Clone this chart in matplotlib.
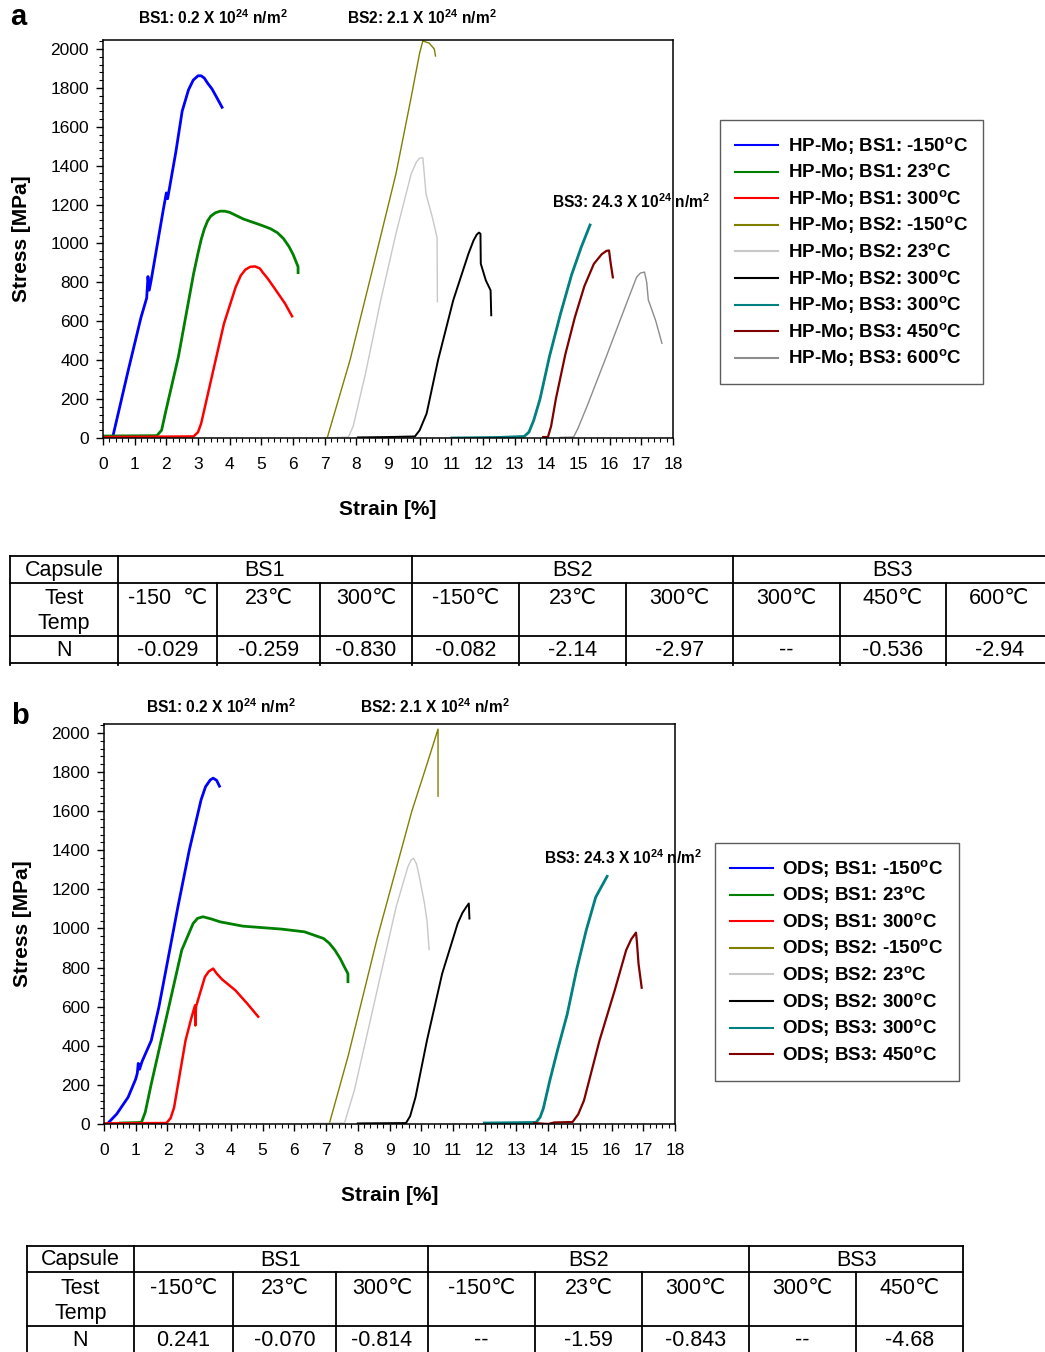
import matplotlib
matplotlib.use('Agg')
import matplotlib.pyplot as plt
from matplotlib.ticker import MultipleLocator

plt.rcParams['font.family'] = ['Liberation Sans', 'DejaVu Sans']
plt.rcParams['mathtext.fontset'] = 'custom'
plt.rcParams['mathtext.rm'] = 'Liberation Sans'
plt.rcParams['mathtext.bf'] = 'Liberation Sans:bold'

W, H = 1045, 1352

# ---- panel a: HP-Mo curves (strain %, stress MPa) ----
a_bs1_m150_x = [0.3, 0.8, 1.2, 1.38, 1.42, 1.46, 1.52, 1.9, 2.0, 2.04, 2.3, 2.5, 2.7, 2.85, 3.0, 3.1, 3.2, 3.3, 3.44, 3.6, 3.76]
a_bs1_m150_y = [0, 350, 620, 720, 830, 760, 810, 1170, 1260, 1230, 1470, 1680, 1790, 1840, 1862, 1862, 1850, 1825, 1795, 1748, 1700]
a_bs1_23_x = [0, 1.7, 1.85, 2.0, 2.38, 2.86, 3.0, 3.1, 3.2, 3.3, 3.4, 3.55, 3.7, 3.85, 4.0, 4.43, 5.03, 5.3, 5.51, 5.7, 5.87, 6.0, 6.1, 6.16, 6.16]
a_bs1_23_y = [10, 12, 40, 150, 417, 844, 950, 1020, 1075, 1115, 1140, 1158, 1166, 1166, 1160, 1126, 1092, 1075, 1055, 1025, 985, 945, 905, 880, 850]
a_bs1_300_x = [0, 2.86, 3.0, 3.1, 3.46, 3.82, 4.19, 4.35, 4.5, 4.65, 4.8, 4.95, 5.05, 5.2, 5.39, 5.75, 5.97]
a_bs1_300_y = [5, 8, 30, 75, 332, 588, 776, 835, 866, 880, 882, 872, 850, 820, 776, 691, 626]
a_bs2_m150_x = [7.08, 7.8, 8.53, 9.25, 9.73, 10.0, 10.1, 10.3, 10.46, 10.5]
a_bs2_m150_y = [0, 400, 879, 1357, 1750, 1980, 2041, 2030, 2000, 1964]
a_bs2_23_x = [7.0, 7.75, 7.9, 8.29, 8.77, 9.25, 9.73, 9.9, 10.0, 10.1, 10.2, 10.4, 10.55, 10.56]
a_bs2_23_y = [0, 5, 60, 332, 708, 1050, 1357, 1420, 1438, 1441, 1255, 1135, 1030, 700]
a_bs2_300_x = [8.05, 9.0, 9.85, 10.0, 10.22, 10.58, 11.06, 11.54, 11.7, 11.8, 11.87, 11.92, 11.93, 12.09, 12.24, 12.26]
a_bs2_300_y = [3, 5, 8, 40, 126, 400, 708, 947, 1015, 1045, 1056, 1050, 896, 810, 759, 631]
a_bs3_300_x = [11.02, 12.5, 13.3, 13.45, 13.6, 13.8, 14.1, 14.45, 14.8, 15.1, 15.38]
a_bs3_300_y = [0, 3, 8, 30, 90, 200, 420, 640, 840, 980, 1095]
a_bs3_450_x = [13.9, 14.05, 14.15, 14.3, 14.6, 14.9, 15.2, 15.5, 15.75, 15.9, 15.98, 16.03, 16.1]
a_bs3_450_y = [5, 5, 60, 200, 430, 620, 780, 895, 945, 962, 964, 900, 826]
a_bs3_600_x = [14.44, 14.86, 15.0, 15.28, 15.89, 16.49, 16.85, 16.97, 17.1, 17.17, 17.22, 17.45, 17.65]
a_bs3_600_y = [3, 5, 50, 161, 417, 674, 827, 848, 853, 800, 710, 605, 487]

# ---- panel b: ODS curves ----
b_bs1_m150_x = [0.1, 0.4, 0.76, 1.0, 1.05, 1.08, 1.12, 1.2, 1.49, 1.73, 1.97, 2.33, 2.69, 3.06, 3.2, 3.35, 3.44, 3.55, 3.64]
b_bs1_m150_y = [0, 51, 137, 230, 260, 310, 280, 320, 427, 598, 803, 1111, 1402, 1658, 1725, 1760, 1769, 1758, 1728]
b_bs1_23_x = [0.52, 1.18, 1.3, 1.49, 1.97, 2.45, 2.81, 2.95, 3.12, 3.4, 3.66, 4.38, 5.59, 6.32, 6.92, 7.1, 7.28, 7.45, 7.58, 7.69, 7.69]
b_bs1_23_y = [5, 8, 60, 205, 547, 889, 1026, 1052, 1060, 1048, 1034, 1012, 997, 983, 949, 925, 889, 845, 803, 769, 728]
b_bs1_300_x = [0, 1.97, 2.1, 2.21, 2.57, 2.75, 2.87, 2.88, 2.9, 3.18, 3.3, 3.44, 3.55, 3.72, 4.14, 4.52, 4.86]
b_bs1_300_y = [3, 5, 30, 85, 427, 540, 607, 504, 600, 752, 780, 795, 770, 740, 684, 615, 549]
b_bs2_m150_x = [7.1, 7.7, 8.61, 9.7, 10.2, 10.53, 10.53]
b_bs2_m150_y = [0, 350, 949, 1598, 1850, 2020, 1677]
b_bs2_23_x = [6.5, 7.58, 7.89, 8.25, 8.73, 9.21, 9.58, 9.68, 9.76, 9.85, 9.94, 10.1, 10.18, 10.25]
b_bs2_23_y = [3, 5, 171, 427, 769, 1111, 1316, 1350, 1359, 1330, 1265, 1130, 1043, 892]
b_bs2_300_x = [8.0, 9.52, 9.65, 9.82, 10.18, 10.66, 11.15, 11.3, 11.42, 11.5, 11.52]
b_bs2_300_y = [3, 5, 40, 137, 427, 769, 1026, 1080, 1110, 1128, 1051]
b_bs3_300_x = [11.99, 13.62, 13.75, 13.85, 14.05, 14.3, 14.6, 14.9, 15.2, 15.5, 15.86]
b_bs3_300_y = [5, 8, 35, 80, 220, 380, 560, 790, 990, 1160, 1267]
b_bs3_450_x = [13.56, 14.0, 14.2, 14.77, 14.95, 15.13, 15.62, 16.1, 16.46, 16.62, 16.77, 16.8, 16.85, 16.95]
b_bs3_450_y = [5, 0, 8, 10, 50, 120, 427, 684, 889, 945, 979, 930, 820, 697]

deg = r'$^{\mathbf{o}}$C'
a_labels = ['HP-Mo; BS1: -150' + deg, 'HP-Mo; BS1: 23' + deg, 'HP-Mo; BS1: 300' + deg,
            'HP-Mo; BS2: -150' + deg, 'HP-Mo; BS2: 23' + deg, 'HP-Mo; BS2: 300' + deg,
            'HP-Mo; BS3: 300' + deg, 'HP-Mo; BS3: 450' + deg, 'HP-Mo; BS3: 600' + deg]
b_labels = ['ODS; BS1: -150' + deg, 'ODS; BS1: 23' + deg, 'ODS; BS1: 300' + deg,
            'ODS; BS2: -150' + deg, 'ODS; BS2: 23' + deg, 'ODS; BS2: 300' + deg,
            'ODS; BS3: 300' + deg, 'ODS; BS3: 450' + deg]

colors = ['#0000ff', '#008000', '#ff0000', '#808000', '#c8c8c8', '#000000', '#008080', '#800000', '#8c8c8c']
widths = [2.0, 2.0, 1.8, 1.0, 1.0, 1.4, 2.0, 1.6, 1.0]

# tables
tab_groups = ['BS1', 'BS2', 'BS3']
tab_a_temps = ['-150  ℃', '23℃', '300℃', '-150℃', '23℃', '300℃', '300℃', '450℃', '600℃']
tab_a_n = ['-0.029', '-0.259', '-0.830', '-0.082', '-2.14', '-2.97', '--', '-0.536', '-2.94']
tab_a_span = [3, 3, 3]
tab_b_temps = ['-150℃', '23℃', '300℃', '-150℃', '23℃', '300℃', '300℃', '450℃']
tab_b_n = ['0.241', '-0.070', '-0.814', '--', '-1.59', '-0.843', '--', '-4.68']
tab_b_span = [3, 3, 2]

fig = plt.figure(figsize=(W / 100, H / 100), dpi=100)


def frac(x0, y0, x1, y1):
    return [x0 / W, 1 - y1 / H, (x1 - x0) / W, (y1 - y0) / H]


def draw_panel(box, xs, ys, labels, leg_xy):
    ax = fig.add_axes(frac(*box))
    handles = []
    for i, (x, y) in enumerate(zip(xs, ys)):
        ln, = ax.plot(x, y, color=colors[i], lw=widths[i], label=labels[i],
                      solid_joinstyle='round')
        handles.append(ln)
    ax.set_xlim(0, 18)
    ax.set_ylim(0, 2046)
    ax.xaxis.set_major_locator(MultipleLocator(1))
    ax.xaxis.set_minor_locator(MultipleLocator(0.2))
    ax.yaxis.set_major_locator(MultipleLocator(200))
    ax.yaxis.set_minor_locator(MultipleLocator(40))
    ax.tick_params(which='major', direction='out', length=5, width=1, labelsize=12.5, pad=5)
    ax.tick_params(which='minor', direction='out', length=3, width=0.8)
    ax.tick_params(axis='x', pad=9)
    for s in ax.spines.values():
        s.set_linewidth(1.1)
    ax.set_xlabel('Strain [%]', fontsize=15, fontweight='bold', labelpad=20)
    ax.set_ylabel('Stress [MPa]', fontsize=15, fontweight='bold', labelpad=14)
    leg = fig.legend(handles=handles, loc='upper left',
                     bbox_to_anchor=(leg_xy[0] / W, 1 - leg_xy[1] / H),
                     prop={'weight': 'bold', 'size': 13.5}, frameon=True, fancybox=False,
                     edgecolor='#333333', labelspacing=0.26, handlelength=2.3,
                     handletextpad=0.5, borderpad=0.8, borderaxespad=0)
    leg.get_frame().set_linewidth(1.0)
    for h in leg.legend_handles:
        h.set_linewidth(1.5)
    return ax


axa = draw_panel((103, 40, 673, 438),
                 [a_bs1_m150_x, a_bs1_23_x, a_bs1_300_x, a_bs2_m150_x, a_bs2_23_x, a_bs2_300_x,
                  a_bs3_300_x, a_bs3_450_x, a_bs3_600_x],
                 [a_bs1_m150_y, a_bs1_23_y, a_bs1_300_y, a_bs2_m150_y, a_bs2_23_y, a_bs2_300_y,
                  a_bs3_300_y, a_bs3_450_y, a_bs3_600_y],
                 a_labels, (720, 120))
axb = draw_panel((104, 724, 675, 1124),
                 [b_bs1_m150_x, b_bs1_23_x, b_bs1_300_x, b_bs2_m150_x, b_bs2_23_x, b_bs2_300_x,
                  b_bs3_300_x, b_bs3_450_x],
                 [b_bs1_m150_y, b_bs1_23_y, b_bs1_300_y, b_bs2_m150_y, b_bs2_23_y, b_bs2_300_y,
                  b_bs3_300_y, b_bs3_450_y],
                 b_labels, (715, 843))

flu = [r'BS1: 0.2 X 10$^{\mathbf{24}}$ n/m$^{\mathbf{2}}$',
       r'BS2: 2.1 X 10$^{\mathbf{24}}$ n/m$^{\mathbf{2}}$',
       r'BS3: 24.3 X 10$^{\mathbf{24}}$ n/m$^{\mathbf{2}}$']
for txt, (px, py) in zip(flu, [(138, 18), (347, 18), (552, 202)]):
    fig.text(px / W, 1 - py / H, txt, fontsize=11.2, fontweight='bold', va='center', ha='left')
for txt, (px, py) in zip(flu, [(146, 707), (360, 707), (544, 858)]):
    fig.text(px / W, 1 - py / H, txt, fontsize=11.2, fontweight='bold', va='center', ha='left')

fig.text(10 / W, 1 - 17 / H, 'a', fontsize=21, fontweight='bold', va='center', ha='left')
fig.text(11 / W, 1 - 716 / H, 'b', fontsize=21, fontweight='bold', va='center', ha='left')

# table overlay in pixel coordinates
tx = fig.add_axes([0, 0, 1, 1], zorder=-1)
tx.set_xlim(0, W)
tx.set_ylim(H, 0)
tx.axis('off')


def draw_table(cols, rows, temps, nvals, spans, bottom_line):
    kw = dict(color='black', lw=1.3, solid_capstyle='projecting')
    for r in rows[:3]:
        tx.plot([cols[0], cols[-1]], [r, r], **kw)
    if bottom_line:
        tx.plot([cols[0], cols[-1]], [rows[3], rows[3]], **kw)
    # group separators through header row
    edges = [0]
    for s in spans:
        edges.append(edges[-1] + s)
    for e in [0] + [k + 1 for k in edges]:
        if e < len(cols):
            tx.plot([cols[e], cols[e]], [rows[0], rows[1]], **kw)
    for c in cols:
        tx.plot([c, c], [rows[1], rows[3] + 2], **kw)
    tk = dict(fontsize=15.5, ha='center', va='center')
    tx.text((cols[0] + cols[1]) / 2, (rows[0] + rows[1]) / 2 + 1, 'Capsule', **tk)
    tx.text((cols[0] + cols[1]) / 2, rows[1] + 16, 'Test', **tk)
    tx.text((cols[0] + cols[1]) / 2, rows[1] + 41, 'Temp', **tk)
    tx.text((cols[0] + cols[1]) / 2, (rows[2] + rows[3]) / 2 + 1, 'N', **tk)
    for g, (a, b) in enumerate(zip(edges[:-1], edges[1:])):
        tx.text((cols[a + 1] + cols[b + 1]) / 2, (rows[0] + rows[1]) / 2 + 1, tab_groups[g], **tk)
    for i, (t, n) in enumerate(zip(temps, nvals)):
        cx = (cols[i + 1] + cols[i + 2]) / 2
        tx.text(cx, rows[1] + 16, t, **tk)
        tx.text(cx, (rows[2] + rows[3]) / 2 + 1, n, **tk)


draw_table([10, 118, 217, 320, 412, 519, 626, 733, 840, 946, 1053], [556, 583, 636, 663],
           tab_a_temps, tab_a_n, tab_a_span, True)
draw_table([27, 134, 233, 336, 428, 535, 642, 749, 856, 963], [1246, 1272, 1326, 1352],
           tab_b_temps, tab_b_n, tab_b_span, False)

fig.savefig('out.png', dpi=100)
